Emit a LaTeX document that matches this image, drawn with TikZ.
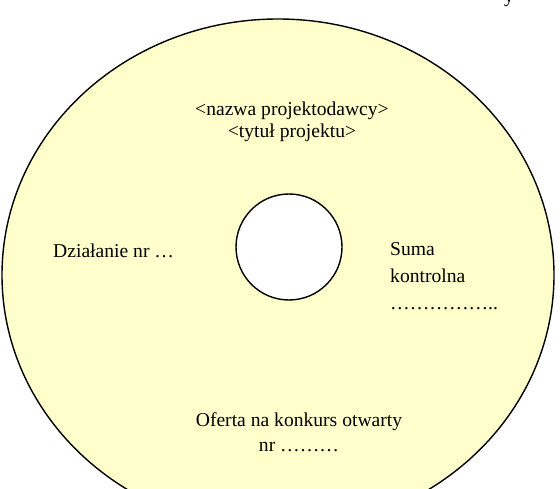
\documentclass[tikz,border=0pt]{standalone}
\usepackage{fontspec}
\setmainfont{Liberation Serif}
\definecolor{discfill}{HTML}{FFFFCC}
\begin{document}
\begin{tikzpicture}[x=1pt,y=-1pt,
  txt/.style={font=\fontsize{19.6}{23}\selectfont, inner sep=0pt, text=black},
  rim/.style={draw=black, line width=1.4pt}]
\useasboundingbox (0,0) rectangle (560,489);
\clip (0,0) rectangle (560,489);
\path[rim, fill=discfill] (278,275) ellipse [x radius=276, y radius=256];
\node[rim, fill=white, circle, minimum size=106pt, inner sep=0pt] (hole) at (289,247) {};
\node[txt, anchor=base] (top) at (509,3) {y};
\node[txt, anchor=base] (name) at (292,116) {<nazwa projektodawcy>};
\node[txt, anchor=base] (title) at (292,138) {<tytuł projektu>};
\node[txt, anchor=base west] (action) at (53,258) {Działanie nr …};
\node[txt, anchor=base west] (sum1) at (390,256) {Suma};
\node[txt, anchor=base west] (sum2) at (390,283) {kontrolna};
\node[txt, anchor=base west] (sum3) at (390,309) {……………..};
\node[txt, anchor=base] (offer1) at (299,426) {Oferta na konkurs otwarty};
\node[txt, anchor=base] (offer2) at (299,451) {nr ………};
\end{tikzpicture}
\end{document}
